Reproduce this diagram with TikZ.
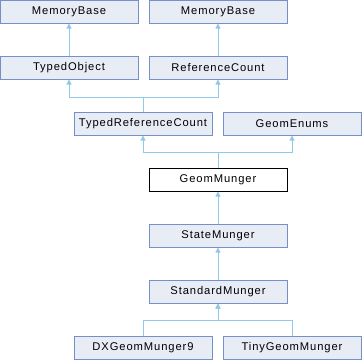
\documentclass[tikz,border=0pt]{standalone}
\usepackage{fontspec}
\setmainfont{Liberation Sans}[LetterSpace=8]
\usetikzlibrary{arrows.meta}
\definecolor{boxfill}{HTML}{E8ECF5}
\definecolor{boxline}{HTML}{7590C4}
\definecolor{edgeblue}{HTML}{93C9E8}
\tikzset{
  cls/.style={draw=boxline, fill=boxfill, line width=1pt, minimum width=138pt, minimum height=23pt,
    inner sep=0pt, font=\fontsize{11.2}{12}\selectfont, anchor=center},
  focus/.style={cls, draw=black, fill=white},
  edge/.style={draw=edgeblue, line width=1pt, -{Triangle[length=5pt,width=5pt]}}
}
\begin{document}
\begin{tikzpicture}[x=1pt, y=-1pt]
\useasboundingbox (0,0) rectangle (362,360);
% class boxes
\node[cls]   (mb1)  at (69,11.5)   {MemoryBase};
\node[cls]   (mb2)  at (218,11.5)  {MemoryBase};
\node[cls]   (to)   at (69,67.5)   {TypedObject};
\node[cls]   (rc)   at (218,67.5)  {ReferenceCount};
\node[cls]   (trc)  at (143,123.5) {TypedReferenceCount};
\node[cls]   (ge)   at (292,123.5) {GeomEnums};
\node[focus] (gm)   at (218,179.5) {GeomMunger};
\node[cls]   (sm)   at (218,235.5) {StateMunger};
\node[cls]   (stdm) at (218,291.5) {StandardMunger};
\node[cls]   (dx)   at (143,347.5) {DXGeomMunger9};
\node[cls]   (tiny) at (292,347.5) {TinyGeomMunger};
% junction points of the branching inheritance lines
\coordinate (j1) at (143,97);
\coordinate (j2) at (218,152);
\coordinate (j3) at (218,320);
% inheritance arrows, child to parent
\draw[edge] (to.north) -- (mb1.south);
\draw[edge] (rc.north) -- (mb2.south);
\draw[edge] (trc.north) -- (j1) -| (to.south);
\draw[edge] (trc.north) -- (j1) -| (rc.south);
\draw[edge] (gm.north) -- (j2) -| (trc.south);
\draw[edge] (gm.north) -- (j2) -| (ge.south);
\draw[edge] (sm.north) -- (gm.south);
\draw[edge] (stdm.north) -- (sm.south);
\draw[edge] (dx.north) |- (j3) -- (stdm.south);
\draw[edge] (tiny.north) |- (j3) -- (stdm.south);
\end{tikzpicture}
\end{document}
